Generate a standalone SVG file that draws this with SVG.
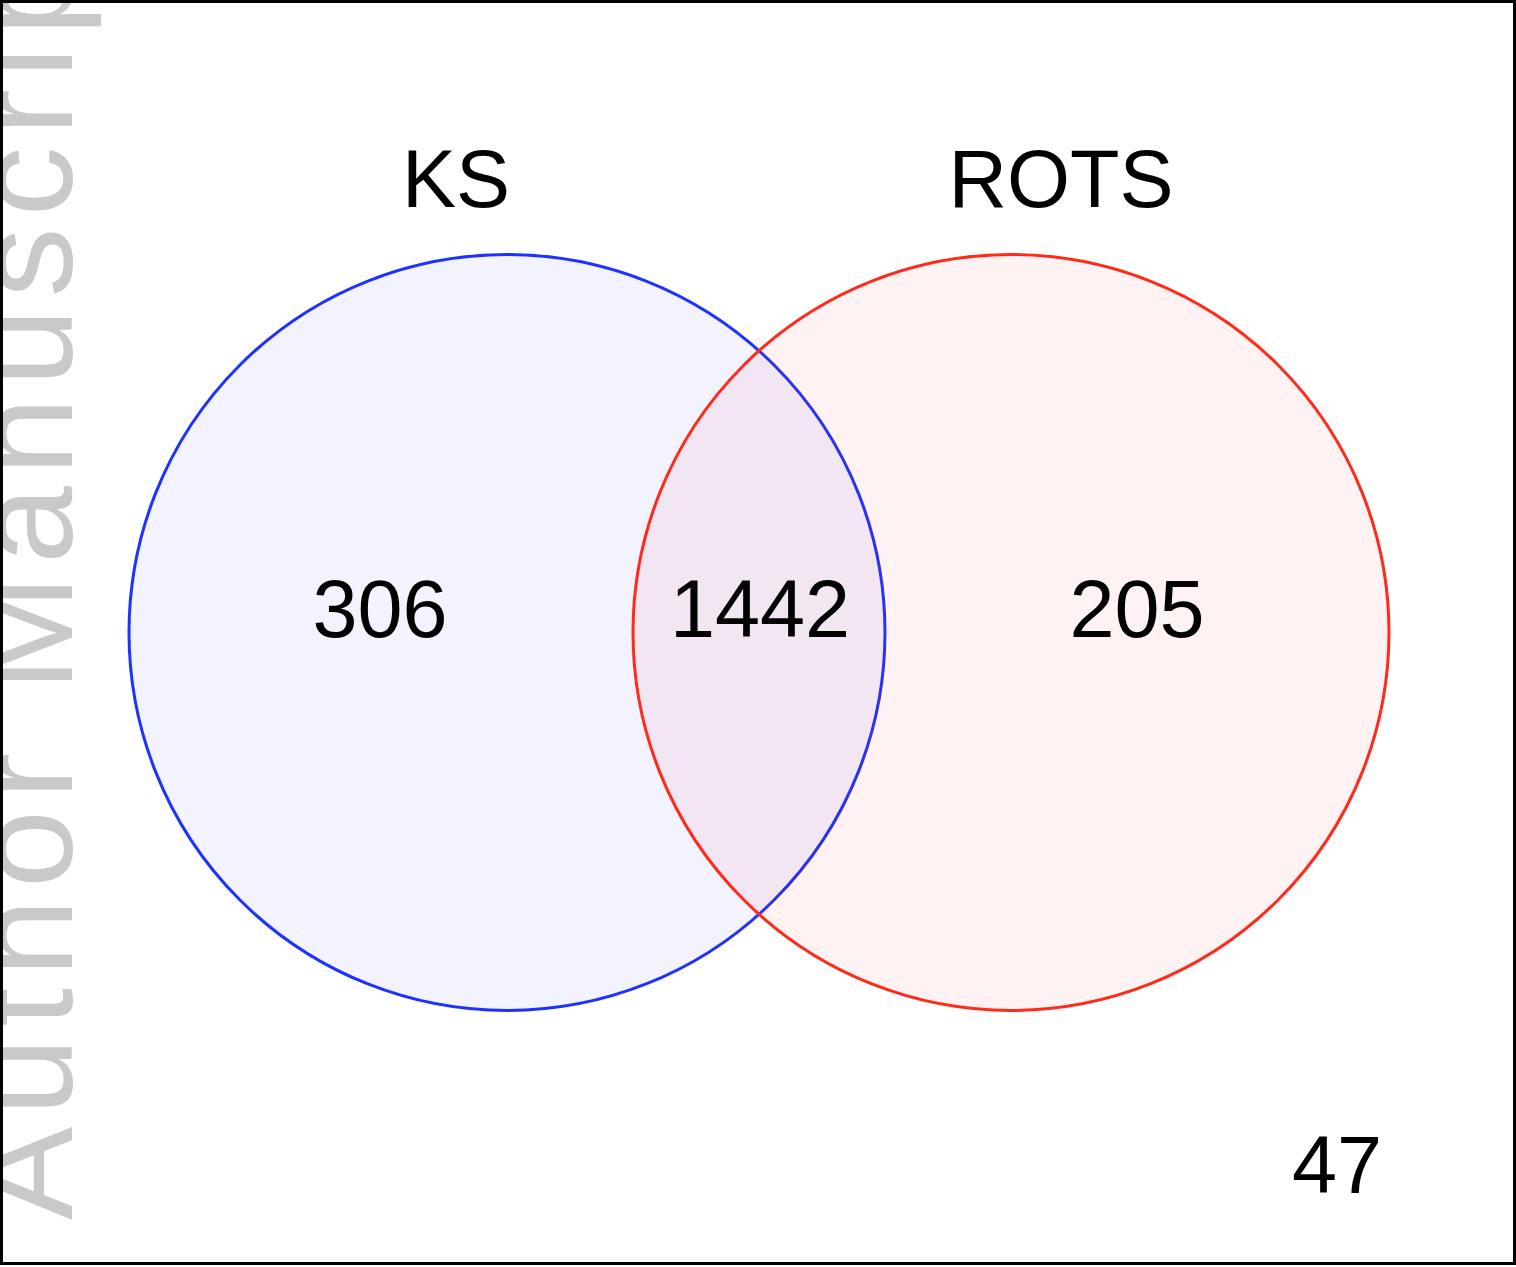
<svg xmlns="http://www.w3.org/2000/svg" width="1516" height="1267" viewBox="0 0 1516 1267">
  <style>
    .lbl { font-family: "Liberation Sans", Arial, sans-serif; font-size: 81px; fill: #000; text-anchor: middle; }
    .wm { font-family: "Liberation Sans", Arial, sans-serif; font-size: 140px; fill: #c9c9c9; letter-spacing: 11px; }
  </style>
  <rect x="0" y="0" width="1516" height="1267" fill="#ffffff"/>
  <text class="wm" transform="translate(72,1220) rotate(-90)">Author Manuscript</text>
  <g id="set-ks">
    <circle cx="507" cy="632.5" r="378" fill="#1e32ff" fill-opacity="0.06" stroke="#1e32ff" stroke-width="3"/>
  </g>
  <g id="set-rots">
    <circle cx="1011" cy="632.5" r="378" fill="#ff2a1a" fill-opacity="0.06" stroke="#ff2a1a" stroke-width="3"/>
  </g>
  <g id="connectors"></g>
  <g id="labels">
    <text class="lbl" x="456" y="207">KS</text>
    <text class="lbl" x="1061" y="207">ROTS</text>
    <text class="lbl" x="380" y="637">306</text>
    <text class="lbl" x="760" y="637">1442</text>
    <text class="lbl" x="1137" y="637">205</text>
    <text class="lbl" x="1337" y="1193">47</text>
  </g>
  <rect x="1.5" y="1.5" width="1513" height="1262" fill="none" stroke="#000" stroke-width="3"/>
</svg>
